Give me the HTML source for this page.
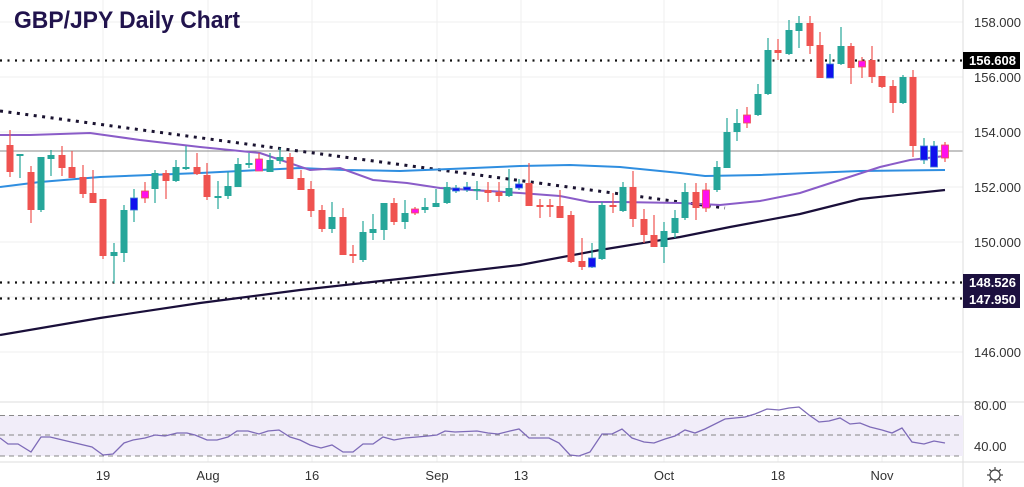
<!DOCTYPE html>
<html><head><meta charset="utf-8"><style>
html,body{margin:0;padding:0;background:#fff;}
svg{display:block;font-family:"Liberation Sans",sans-serif;}
</style></head><body>
<svg id="s" width="1024" height="487" viewBox="0 0 1024 487" xmlns="http://www.w3.org/2000/svg">
<g stroke="#efefef" stroke-width="1">
<line x1="0" y1="22" x2="963" y2="22"/><line x1="0" y1="77" x2="963" y2="77"/><line x1="0" y1="132" x2="963" y2="132"/><line x1="0" y1="187" x2="963" y2="187"/><line x1="0" y1="242" x2="963" y2="242"/><line x1="0" y1="297" x2="963" y2="297"/><line x1="0" y1="352" x2="963" y2="352"/>
<line x1="103" y1="0" x2="103" y2="462"/><line x1="208" y1="0" x2="208" y2="462"/><line x1="312" y1="0" x2="312" y2="462"/><line x1="437" y1="0" x2="437" y2="462"/><line x1="521" y1="0" x2="521" y2="462"/><line x1="664" y1="0" x2="664" y2="462"/><line x1="778" y1="0" x2="778" y2="462"/><line x1="882" y1="0" x2="882" y2="462"/>
</g>
<text x="14" y="28" font-size="24" font-weight="bold" fill="#21134d" textLength="226" lengthAdjust="spacingAndGlyphs">GBP/JPY Daily Chart</text>
<g stroke="#111" stroke-width="2.2" stroke-dasharray="2 5.5">
<line x1="0" y1="60.5" x2="962" y2="60.5"/>
<line x1="0" y1="282.5" x2="962" y2="282.5"/>
<line x1="0" y1="298.5" x2="962" y2="298.5"/>
</g>
<line x1="0" y1="151" x2="963" y2="151" stroke="#888" stroke-width="1"/>
<line x1="0" y1="111" x2="725" y2="208" stroke="#1a1330" stroke-width="3" stroke-dasharray="3 5.5"/>
<polyline fill="none" stroke="#1a0f3a" stroke-width="2.2" points="0,335 100,318 200,303 300,290 408,278 520,265 600,250 680,237 730,227 800,214 860,199 945,190"/>
<polyline fill="none" stroke="#2f8ee0" stroke-width="2" points="0,187 40,182 100,177 150,175 200,173 260,170 300,168 345,170 400,171 450,169 520,166 570,165 620,167 680,173 705,176 760,175 860,171 945,170"/>
<polyline fill="none" stroke="#8a5cc8" stroke-width="2" points="0,135 30,135 90,133 140,140 200,147 260,153 310,170 340,168 373,180 407,183 440,188 520,193 560,196 590,202 620,202 680,203 720,205 760,201 800,193 840,180 880,167 910,160 945,156"/>
<g id="c"></g>
<line x1="963" y1="0" x2="963" y2="487" stroke="#ddd"/>
<line x1="0" y1="402" x2="1024" y2="402" stroke="#ddd"/>
<line x1="0" y1="462" x2="1024" y2="462" stroke="#ddd"/>
<rect x="0" y="415.5" width="963" height="40.5" fill="#f1edf9"/>
<g stroke="#888" stroke-dasharray="5 4" stroke-width="1">
<line x1="0" y1="415.5" x2="963" y2="415.5"/><line x1="0" y1="435" x2="963" y2="435"/><line x1="0" y1="456" x2="963" y2="456"/>
</g>
<polyline fill="none" stroke="#7e6bb8" stroke-width="1.3" points="0,438 8,444 18,444 31,452 41,437 50,437 92,447 103,455 113,454 124,443 133,440 145,438 155,435 165,436 177,433 187,433 195,435 207,440 217,440 228,437 237,431 248,431 259,434 268,431 279,430 290,437 300,440 310,445 321,448 332,445 343,452 353,452 363,444 373,444 383,437 394,440 405,438 417,437 428,436 437,435 445,431 455,432 477,431 488,433 498,434 510,431 519,429 529,438 549,438 559,443 570,455 579,456 590,452 602,434 612,434 622,429 632,438 644,442 654,443 665,439 675,436 685,430 695,433 705,429 725,419 745,417 755,414 767,409 779,410 789,408 799,407 809,415 819,422 829,421 840,418 850,424 860,423 870,427 882,430 892,433 902,428 912,442 924,444 934,441 945,443"/>
<g font-size="13" fill="#333">
<text x="974" y="27">158.000</text><text x="974" y="82">156.000</text><text x="974" y="137">154.000</text><text x="974" y="192">152.000</text><text x="974" y="247">150.000</text><text x="974" y="357">146.000</text>
<text x="974" y="410">80.00</text><text x="974" y="451">40.00</text>
</g>
<rect x="963" y="52" width="57" height="17" fill="#000"/>
<text x="969" y="65" font-size="13" font-weight="bold" fill="#fff">156.608</text>
<rect x="963" y="274" width="57" height="34" fill="#1c103f"/>
<text x="969" y="287" font-size="13" font-weight="bold" fill="#fff">148.526</text>
<text x="969" y="304" font-size="13" font-weight="bold" fill="#fff">147.950</text>
<g font-size="13" fill="#333" text-anchor="middle">
<text x="103" y="480">19</text><text x="208" y="480">Aug</text><text x="312" y="480">16</text><text x="437" y="480">Sep</text><text x="521" y="480">13</text><text x="664" y="480">Oct</text><text x="778" y="480">18</text><text x="882" y="480">Nov</text>
</g>
<g stroke="#444" fill="none" stroke-width="1.2"><circle cx="995" cy="475" r="5"/>
<path d="M995 467v3M995 480v3M987 475h3M1000 475h3M989.3 469.3l2 2M998.7 478.7l2 2M989.3 480.7l2-2M998.7 471.3l2-2"/></g>
</svg>
<script>
var C={G:"#26a69a",R:"#ef5350",B:"#1010ee",M:"#ff10ee"};
var d=[
[10,"R",145,172,130,177],[20,"G",154,155,155,178],[31,"R",172,210,166,223],[41,"G",157,210,157,212],[51,"G",155,159,150,176],[62,"R",155,168,146,176],[72,"R",167,178,151,178],[83,"R",177,194,165,198],[93,"R",193,203,170,203],[103,"R",199,256,199,259],
[114,"G",252,256,243,283],[124,"G",210,253,205,262],[134,"B",198,210,189,222],[145,"M",191,198,182,203],[155,"G",173,189,170,203],[166,"R",173,181,170,199],[176,"G",167,181,160,182],[186,"G",167,168,146,170],[197,"R",167,174,153,175],[207,"R",175,197,163,200],
[218,"G",196,197,181,209],[228,"G",186,196,172,199],[238,"G",164,187,158,187],[249,"G",163,164,153,168],[259,"M",159,171,153,171],[270,"G",160,172,153,172],[280,"G",157,161,148,164],[290,"R",157,179,153,179],[301,"R",178,190,170,190],[311,"R",189,211,181,217],
[322,"R",210,229,205,232],[332,"G",217,229,202,233],[343,"R",217,255,208,255],[353,"R",254,256,245,263],[363,"G",232,260,221,262],[373,"G",229,233,214,240],[384,"G",203,230,203,240],[394,"R",203,222,198,225],[405,"G",213,222,200,229],[415,"M",209,213,207,215],
[425,"G",207,210,198,213],[436,"G",203,207,189,207],[447,"G",187,203,182,204],[456,"B",188,191,185,193],[467,"B",187,190,182,192],[477,"G",189,191,181,200],[488,"R",190,193,182,202],[499,"R",192,196,182,202],[509,"G",188,196,169,197],[519,"B",184,188,179,190],
[529,"R",183,206,163,206],[540,"R",205,207,199,218],[550,"R",205,207,199,217],[560,"R",206,218,190,218],[571,"R",215,262,211,263],[582,"R",261,267,238,270],[592,"B",258,267,243,268],[602,"G",205,259,202,260],[613,"R",205,207,193,213],[623,"G",187,211,182,212],
[633,"R",187,219,171,227],[644,"R",219,235,209,243],[654,"R",235,247,215,247],[664,"G",231,247,222,263],[675,"G",218,233,210,238],[685,"G",192,218,183,220],[696,"R",192,208,183,220],[706,"M",190,208,183,212],[717,"G",167,190,161,192],[727,"G",132,168,118,168],
[737,"G",123,132,109,141],[747,"M",115,123,107,128],[758,"G",94,115,84,116],[768,"G",50,94,38,95],[778,"R",50,53,39,60],[789,"G",30,54,20,55],[799,"G",23,31,16,48],[810,"R",23,46,16,54],[820,"R",45,78,32,78],[830,"B",64,78,54,78],
[841,"G",46,64,27,65],[851,"R",46,68,43,84],[862,"M",61,67,57,78],[872,"R",60,77,46,83],[882,"R",76,87,76,88],[893,"R",86,103,80,113],[903,"G",77,103,75,104],[913,"R",77,146,70,157],[924,"B",146,160,138,164],[934,"B",146,167,141,167],[945,"M",145,158,142,162]];
var h="";
d.forEach(function(c){var col=C[c[1]];var wc=(c[1]=="B"||c[1]=="M")?C.R:col;
if(c[1]=="B")wc="#26a69a";
h+='<line x1="'+c[0]+'" y1="'+c[4]+'" x2="'+c[0]+'" y2="'+c[5]+'" stroke="'+wc+'" stroke-width="1.2"/>';
var hh=Math.max(c[3]-c[2],2);
h+='<rect x="'+(c[0]-3.5)+'" y="'+c[2]+'" width="7" height="'+hh+'" fill="'+col+'"'+(c[1]=="B"||c[1]=="M"?' stroke="'+(c[1]=="B"?"#3a7bd5":"#ef5350")+'" stroke-width="0.8"':'')+'/>';});
document.getElementById("c").innerHTML=h;
</script>
</body></html>
